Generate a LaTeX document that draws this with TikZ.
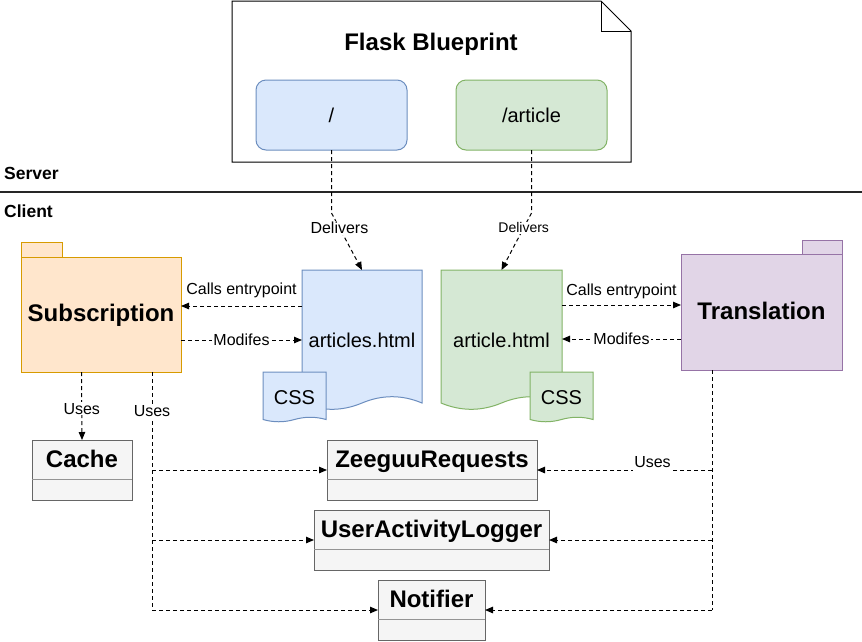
\documentclass[tikz,border=0pt]{standalone}
\usepackage{fontspec}
\setmainfont{Liberation Sans}
\usetikzlibrary{arrows.meta,calc}
\definecolor{blueF}{HTML}{DAE8FC}
\definecolor{blueD}{HTML}{6C8EBF}
\definecolor{greenF}{HTML}{D5E8D4}
\definecolor{greenD}{HTML}{82B366}
\definecolor{orangeF}{HTML}{FFE6CC}
\definecolor{orangeD}{HTML}{D79B00}
\definecolor{purpleF}{HTML}{E1D5E7}
\definecolor{purpleD}{HTML}{9673A6}
\definecolor{grayF}{HTML}{F5F5F5}
\definecolor{grayD}{HTML}{666666}
\begin{document}
\begin{tikzpicture}[x=1pt,y=-1pt,
  shapebox/.style={rectangle, inner sep=0pt, outer sep=0pt, line width=1pt},
  conn/.style={line width=1pt, dash pattern=on 4pt off 3pt, -{Triangle[length=8pt,width=6.5pt]}},
  bus/.style={line width=1pt, dash pattern=on 4pt off 3pt},
  lbl/.style={font=\fontsize{16}{18}\selectfont, fill=white, inner sep=1pt},
  lblplain/.style={font=\fontsize{16}{18}\selectfont, inner sep=1pt},
  bodytxt/.style={font=\fontsize{20}{24}\selectfont, text height=14.4pt, text depth=0pt},
  boldtxt/.style={font=\fontsize{24}{28}\selectfont\bfseries, text height=17.3pt, text depth=0pt},
  sectxt/.style={font=\fontsize{17.5}{20}\selectfont\bfseries, anchor=west, inner sep=0pt},
  cls/.style={shapebox, draw=grayD, fill=grayF},
  divline/.style={draw=grayD!70, line width=1pt},
  docline/.style={line width=1pt},
]
\useasboundingbox (0,0) rectangle (862,641);

% row / column helpers
\coordinate (r306) at (0,306);
\coordinate (r340) at (0,340);
\coordinate (r305) at (0,305);
\coordinate (r339) at (0,339);
\coordinate (r470) at (0,470);
\coordinate (r540) at (0,540);
\coordinate (r610) at (0,610);
\coordinate (cL) at (152,0);
\coordinate (cR) at (712,0);
\coordinate (cC) at (81.5,0);

% Flask Blueprint note
\node[shapebox, minimum width=399pt, minimum height=161pt] (bp) at (431.5,81.5) {};
\draw[line width=1pt, fill=white] (bp.north west) -- ($(bp.north east)+(-30,0)$) -- ($(bp.north east)+(0,30)$) -- (bp.south east) -- (bp.south west) -- cycle;
\draw[line width=1pt] ($(bp.north east)+(-30,0)$) -- ($(bp.north east)+(-30,30)$) -- ($(bp.north east)+(0,30)$);
\node[boldtxt] (bptitle) at (431,42) {Flask Blueprint};
\node[shapebox, bodytxt, draw=blueD, fill=blueF, rounded corners=10pt, minimum width=151pt, minimum height=70pt] (root) at (331.5,115) {/};
\node[shapebox, bodytxt, draw=greenD, fill=greenF, rounded corners=10pt, minimum width=151pt, minimum height=70pt] (art) at (531.5,115) {/article};

% Server / Client
\node[sectxt] (server) at (4,173) {Server};
\draw[line width=2pt, black!85] (0,192) -- (862,192);
\node[sectxt] (client) at (4,211) {Client};

% Packages
\draw[line width=1pt, draw=orangeD, fill=orangeF] (21,242) rectangle (62,257);
\node[shapebox, boldtxt, text height=14.3pt, draw=orangeD, fill=orangeF, minimum width=160pt, minimum height=115pt] (sub) at (101,314.5) {Subscription};
\draw[line width=1pt, draw=purpleD, fill=purpleF] (802,240) rectangle (842,254);
\node[shapebox, boldtxt, text height=15.3pt, draw=purpleD, fill=purpleF, minimum width=161pt, minimum height=116pt] (tr) at (761.5,312) {Translation};

% Documents
\draw[docline, draw=blueD, fill=blueF] (302,270) -- (422,270) -- (422,403) .. controls (402,394.6) and (382,394.6) .. (362,403) .. controls (342,411.4) and (322,411.4) .. (302,403) -- cycle;
\node[shapebox, bodytxt, minimum width=120pt, minimum height=140pt] (arts) at (362,340) {articles.html};
\draw[docline, draw=blueD, fill=blueF] (263,372) -- (326,372) -- (326,419.5) .. controls (315.5,416.5) and (305,416.5) .. (294.5,419.5) .. controls (284,422.5) and (273.5,422.5) .. (263,419.5) -- cycle;
\node[shapebox, bodytxt, minimum width=63pt, minimum height=50pt] (cssb) at (294.5,397) {CSS};

\draw[docline, draw=greenD, fill=greenF] (441,270) -- (562,270) -- (562,403) .. controls (541.8,394.6) and (521.7,394.6) .. (501.5,403) .. controls (481.3,411.4) and (461.2,411.4) .. (441,403) -- cycle;
\node[shapebox, bodytxt, minimum width=121pt, minimum height=140pt] (artl) at (501.5,340) {article.html};
\draw[docline, draw=greenD, fill=greenF] (530,372) -- (593,372) -- (593,419.5) .. controls (582.5,416.5) and (572,416.5) .. (561.5,419.5) .. controls (551,422.5) and (540.5,422.5) .. (530,419.5) -- cycle;
\node[shapebox, bodytxt, minimum width=63pt, minimum height=50pt] (cssg) at (561.5,397) {CSS};

% Class boxes
\node[cls, minimum width=100pt, minimum height=60pt] (cache) at (82,470) {};
\draw[divline] ($(cache.north west)+(0,39)$) -- ($(cache.north east)+(0,39)$);
\node[boldtxt] (cachet) at ($(cache.north)+(0,19)$) {Cache};

\node[cls, minimum width=210pt, minimum height=60pt] (zr) at (432,470) {};
\draw[divline] ($(zr.north west)+(0,39)$) -- ($(zr.north east)+(0,39)$);
\node[boldtxt] (zrt) at ($(zr.north)+(0,19)$) {ZeeguuRequests};

\node[cls, minimum width=235pt, minimum height=60pt] (ual) at (431.5,540) {};
\draw[divline] ($(ual.north west)+(0,39)$) -- ($(ual.north east)+(0,39)$);
\node[boldtxt] (ualt) at ($(ual.north)+(0,19)$) {UserActivityLogger};

\node[cls, minimum width=107pt, minimum height=60pt] (nt) at (431.5,610) {};
\draw[divline] ($(nt.north west)+(0,39)$) -- ($(nt.north east)+(0,39)$);
\node[boldtxt] (ntt) at ($(nt.north)+(0,19)$) {Notifier};

% Delivers
\draw[conn] (root.south) -- ($(root.south)+(0,63)$) -- node[lbl, pos=0.26] {Delivers} (arts.north);
\draw[conn] (art.south) -- ($(art.south)+(0,63)$) -- node[lbl, font=\fontsize{14}{16}\selectfont, pos=0.26] {Delivers} (artl.north);

% Calls / Modifes
\draw[conn] (arts.west |- r306) -- node[lblplain, yshift=16pt] {Calls entrypoint} (sub.east |- r306);
\draw[conn] (sub.east |- r340) -- node[lbl] {Modifes} (arts.west |- r340);
\draw[conn] (artl.east |- r305) -- node[lblplain, yshift=14pt] {Calls entrypoint} (tr.west |- r305);
\draw[conn] (tr.west |- r339) -- node[lbl] {Modifes} (artl.east |- r339);

% Uses
\draw[conn] (sub.south -| cC) -- node[lbl, pos=0.54] {Uses} (cache.north);
\draw[bus] (sub.south -| cL) -- node[lbl, pos=0.165] {Uses} (cL |- r610);
\draw[conn] (cL |- r470) -- (zr.west |- r470);
\draw[conn] (cL |- r540) -- (ual.west |- r540);
\draw[conn] (cL |- r610) -- (nt.west |- r610);

\draw[bus] (tr.south -| cR) -- (cR |- r610);
\draw[conn] (cR |- r470) -- node[lbl, inner ysep=5pt, pos=0.34, yshift=8pt] {Uses} (zr.east |- r470);
\draw[conn] (cR |- r540) -- (ual.east |- r540);
\draw[conn] (cR |- r610) -- (nt.east |- r610);
\end{tikzpicture}
\end{document}
